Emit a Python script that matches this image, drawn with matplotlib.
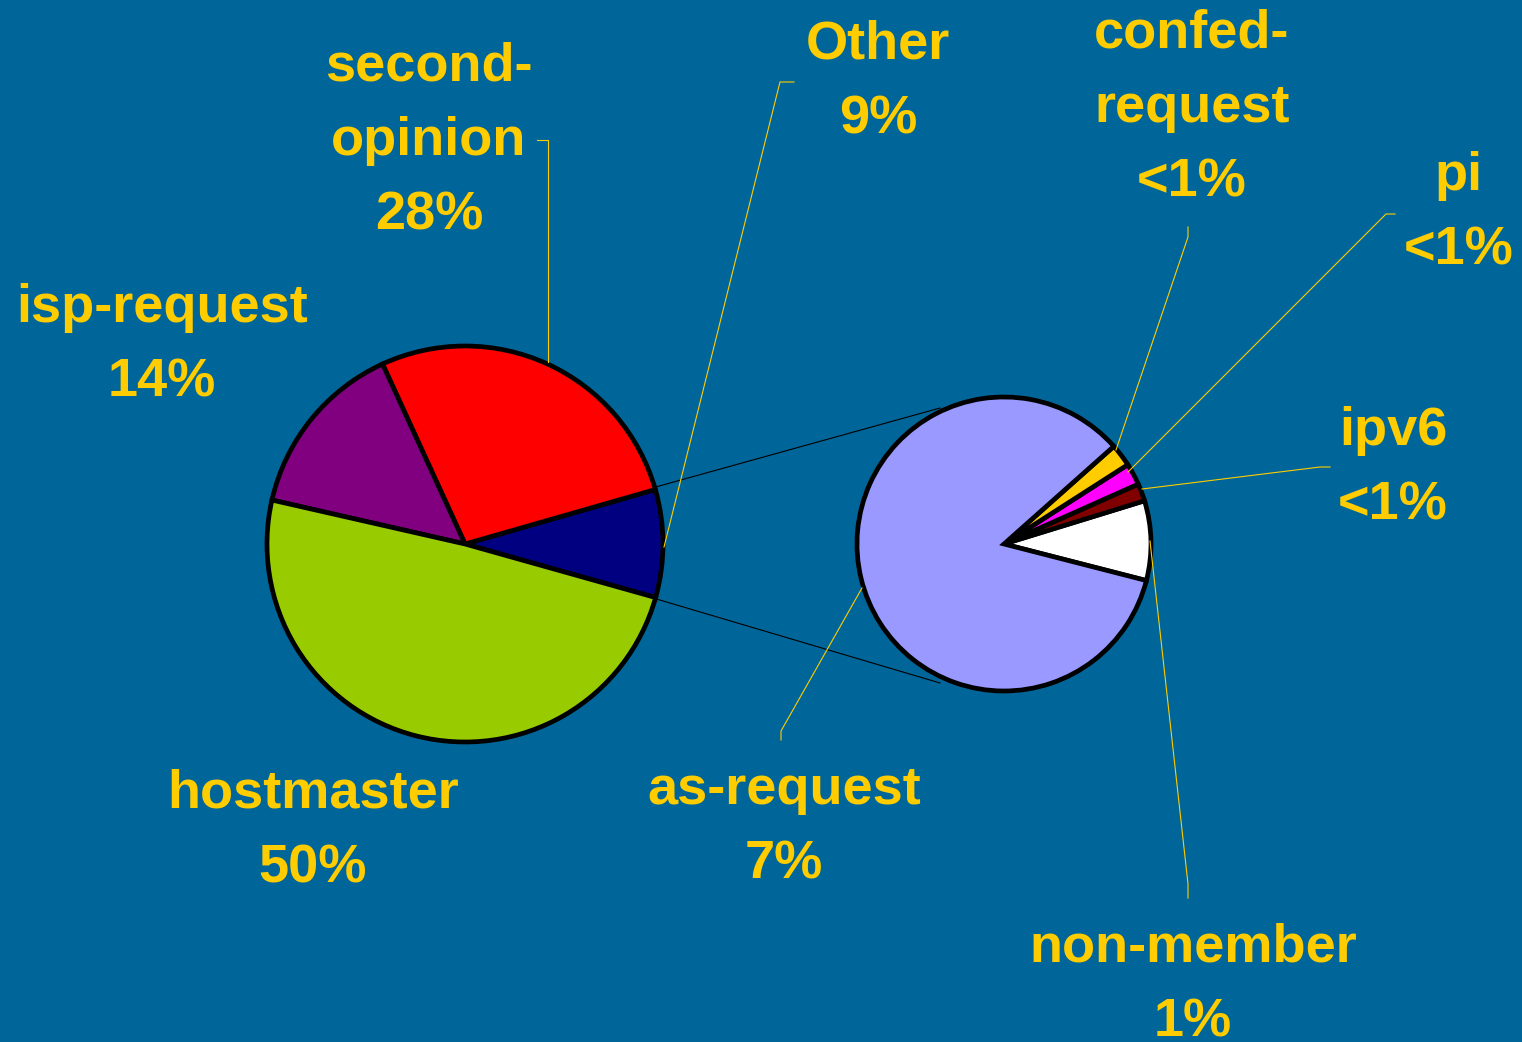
import matplotlib
matplotlib.use("Agg")
import matplotlib.pyplot as plt

# ========= DATA =========
# main pie (share of all tickets, %), counterclockwise from the "Other" slice
main_labels = ["Other\n9%", "second-\nopinion\n28%", "isp-request\n14%", "hostmaster\n50%"]
main_values = [8.8, 27.4, 14.6, 49.2]
main_colors = ["#000080", "#FF0000", "#800080", "#99CC00"]

# second pie: breakdown of "Other"
sub_labels = ["non-member\n1%", "ipv6\n<1%", "pi\n<1%", "confed-\nrequest\n<1%", "as-request\n7%"]
sub_values = [0.77, 0.17, 0.21, 0.22, 7.43]
sub_colors = ["#FFFFFF", "#800000", "#FF00FF", "#FFCC00", "#9999FF"]

# ========= STYLE =========
W, H = 1522, 1042
BG = "#006699"
GOLD = "#FFCC00"
FONT = ["Liberation Sans", "DejaVu Sans"]


def px(x, y):
    # coordenadas de la imagen (y hacia abajo) -> datos (y hacia arriba)
    return x, H - y


fig = plt.figure(figsize=(W / 100, H / 100), dpi=100)
fig.patch.set_facecolor(BG)
ax = fig.add_axes([0, 0, 1, 1])
ax.set_facecolor(BG)

main_c = px(465, 544)
sub_c = px(1004, 544)

wedges_main, _ = ax.pie(main_values, colors=main_colors, startangle=-15.7,
                        counterclock=True, radius=198, center=main_c,
                        wedgeprops=dict(edgecolor="black", linewidth=3.4))
wedges_sub, _ = ax.pie(sub_values, colors=sub_colors, startangle=-14.4,
                       counterclock=True, radius=147, center=sub_c,
                       wedgeprops=dict(edgecolor="black", linewidth=3.4))

ax.set_xlim(0, W)
ax.set_ylim(0, H)
ax.set_aspect("equal")
ax.axis("off")

# connector lines between the two pies
for a, b in [((652, 488), (940, 408)), ((653, 598), (940, 683))]:
    x0, y0 = px(*a)
    x1, y1 = px(*b)
    ax.plot([x0, x1], [y0, y1], color="black", lw=0.8, zorder=0.5)

# leader lines
leaders = {
    "second-opinion": [(548, 362), (548, 140), (537, 140)],
    "Other": [(664, 547), (780, 82), (794, 82)],
    "confed": [(1116, 450), (1188, 237), (1188, 227)],
    "pi": [(1128, 472), (1386, 214), (1395, 214)],
    "ipv6": [(1142, 489), (1320, 467), (1330, 467)],
    "non-member": [(1150, 541), (1188, 884), (1188, 898)],
    "as-request": [(862, 588), (781, 731), (781, 740)],
}
for pts in leaders.values():
    xs, ys = zip(*[px(*p) for p in pts])
    ax.plot(xs, ys, color=GOLD, lw=0.8, zorder=3)

# labels
main_pos = [(878, 82), (429, 141), (162, 345), (313, 831)]
sub_pos = [(1193, 985), (1393, 468), (1459, 213), (1192, 108), (784, 827)]
for lab, p in list(zip(main_labels, main_pos)) + list(zip(sub_labels, sub_pos)):
    x, y = px(*p)
    ax.text(x, y, lab, ha="center", va="center", multialignment="center",
            color=GOLD, fontsize=39, fontweight="bold", family=FONT,
            linespacing=1.62, zorder=4)

fig.savefig("out.png", dpi=100, facecolor=BG)
